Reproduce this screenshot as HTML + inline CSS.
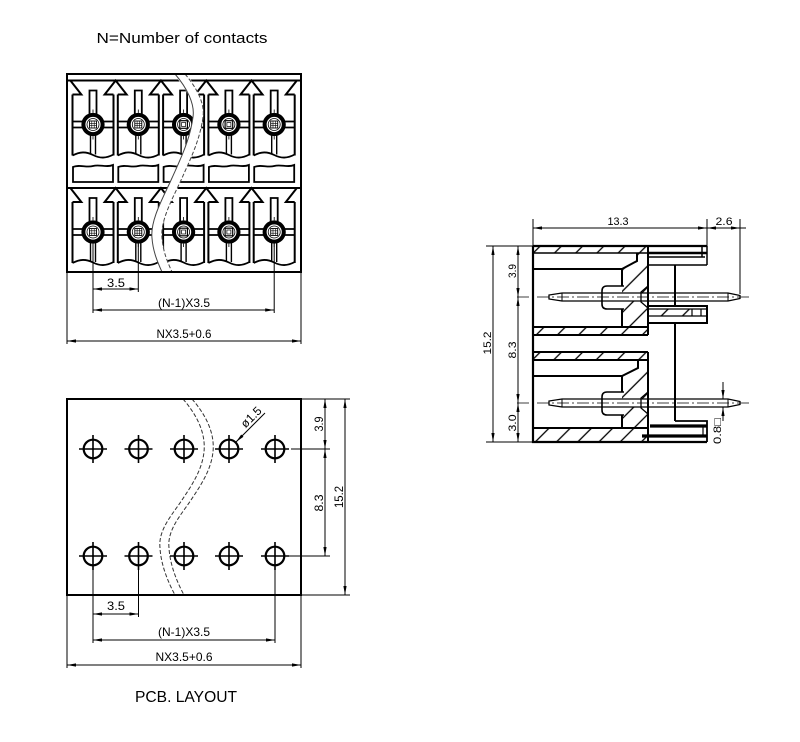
<!DOCTYPE html>
<html><head><meta charset="utf-8">
<style>html,body{margin:0;padding:0;background:#fff}svg{display:block}</style></head>
<body>
<svg width="800" height="742" viewBox="0 0 800 742" xmlns="http://www.w3.org/2000/svg" font-family="'Liberation Sans', 'DejaVu Sans', sans-serif">
<defs>
<marker id="a" markerUnits="userSpaceOnUse" markerWidth="9" markerHeight="4" refX="9" refY="2" orient="auto-start-reverse"><path d="M0,0.4 L9,2 L0,3.6z" fill="#000"/></marker>
<pattern id="h" patternUnits="userSpaceOnUse" width="15" height="15" patternTransform="rotate(45)"><line x1="1" y1="0" x2="1" y2="15" stroke="#000" stroke-width="1.3"/></pattern>
<g id="cg" fill="none" stroke="#000">
  <path d="M-20.5,-30V31M20.5,-30V31" stroke-width="2"/>
  <path d="M-20.5,31C-13,27 -7,27 0,30.5C7,34 13,34 20.5,30" stroke-width="1.8"/>
  <path d="M-3.5,-10V-34H3.5V-10" stroke-width="1.8"/>
  <path d="M-2.5,10V30M2.5,10V30" stroke-width="1.4"/>
  <path d="M-20.5,-3H-10M10,-3H20.5M-20.5,3H-10M10,3H20.5" stroke-width="1.8"/>
  <circle r="9.6" stroke-width="4"/>
  <circle r="6" stroke-width="0.8"/>
  <path d="M0,-15V-11.6M0,11.6V15" stroke-width="0.8"/>
</g>
<g id="gA" fill="none" stroke="#000"><rect x="-3.5" y="-3.5" width="7" height="7" stroke-width="0.9"/><path d="M-3.5,-1.2H3.5M-3.5,1.2H3.5M-1.2,-3.5V3.5M1.2,-3.5V3.5" stroke-width="0.6"/></g>
<g id="gB" fill="none" stroke="#000"><rect x="-3.8" y="-3.8" width="7.6" height="7.6" stroke-width="1.2"/><rect x="-2" y="-2" width="4" height="4" stroke-width="0.7"/></g>
<g id="hole" fill="none" stroke="#000"><circle r="9.3" stroke-width="2.2"/><path d="M-14,0H14M0,-14V14" stroke-width="1.6"/><circle r="1" fill="#000" stroke="none"/></g>
</defs>

<!-- ================= TOP VIEW ================= -->
<text x="182" y="43" font-size="15" text-anchor="middle" textLength="171" lengthAdjust="spacingAndGlyphs">N=Number of contacts</text>

<g fill="none" stroke="#000" stroke-width="2">
  <path d="M68,80.5H300"/>
  <path d="M70.35,80.5L81.35,94.5H72.5"/>
  <path d="M113.5,94.5H104.65L115.65,80.5L126.65,94.5H117.8"/>
  <path d="M158.8,94.5H149.95L160.95,80.5L171.95,94.5H163.1"/>
  <path d="M204.1,94.5H195.25L206.25,80.5L217.25,94.5H208.4"/>
  <path d="M249.4,94.5H240.55L251.55,80.5L262.55,94.5H253.7"/>
  <path d="M294.7,94.5H285.85L296.85,80.5"/>

  <path d="M68,188H300"/>
  <path d="M70.35,188L81.35,202H72.5"/>
  <path d="M113.5,202H104.65L115.65,188L126.65,202H117.8"/>
  <path d="M158.8,202H149.95L160.95,188L171.95,202H163.1"/>
  <path d="M204.1,202H195.25L206.25,188L217.25,202H208.4"/>
  <path d="M249.4,202H240.55L251.55,188L262.55,202H253.7"/>
  <path d="M294.7,202H285.85L296.85,188"/>
</g>

<use href="#cg" x="93" y="124.5"/><use href="#gA" x="93" y="124.5"/>
<use href="#cg" x="138.3" y="124.5"/><use href="#gA" x="138.3" y="124.5"/>
<use href="#cg" x="183.6" y="124.5"/><use href="#gB" x="183.6" y="124.5"/>
<use href="#cg" x="228.9" y="124.5"/><use href="#gB" x="228.9" y="124.5"/>
<use href="#cg" x="274.2" y="124.5"/><use href="#gA" x="274.2" y="124.5"/>

<use href="#cg" x="93" y="232"/><use href="#gA" x="93" y="232"/>
<use href="#cg" x="138.3" y="232"/><use href="#gA" x="138.3" y="232"/>
<use href="#cg" x="183.6" y="232"/><use href="#gB" x="183.6" y="232"/>
<use href="#cg" x="228.9" y="232"/><use href="#gB" x="228.9" y="232"/>
<use href="#cg" x="274.2" y="232"/><use href="#gA" x="274.2" y="232"/>

<g fill="none" stroke="#000" stroke-width="1.8">
  <path d="M73,182V167C80,164 86,168 93,166C100,164 106,168 113,165V182Z"/>
  <path d="M118.3,182V167C125.3,164 131.3,168 138.3,166C145.3,164 151.3,168 158.3,165V182Z"/>
  <path d="M163.6,182V167C170.6,164 176.6,168 183.6,166C190.6,164 196.6,168 203.6,165V182Z"/>
  <path d="M208.9,182V167C215.9,164 221.9,168 228.9,166C235.9,164 241.9,168 248.9,165V182Z"/>
  <path d="M254.2,182V167C261.2,164 267.2,168 274.2,166C281.2,164 287.2,168 294.2,165V182Z"/>
</g>

<path d="M180,74 C192,88 200,104 198,117 C195,140 185,160 177,178 C169,196 155,220 157,238 C158,252 163,263 167,272" fill="none" stroke="#fff" stroke-width="10"/>
<path d="M175,74 C187,88 195,104 193,117 C190,140 180,160 172,178 C164,196 150,220 152,238 C153,252 158,263 162,272" fill="none" stroke="#444" stroke-width="1"/>
<path d="M185,74 C197,88 205,104 203,117 C200,140 190,160 182,178 C174,196 160,220 162,238 C163,252 168,263 172,272" fill="none" stroke="#444" stroke-width="1" stroke-dasharray="4 2"/>

<rect x="67" y="74" width="234" height="198" fill="none" stroke="#000" stroke-width="2"/>

<g fill="none" stroke="#000" stroke-width="1">
  <path d="M93,243V292M138.3,243V292M93,292V313M274.2,243V313M67,272V344M301,272V344"/>
  <path d="M93,289H138.3" marker-start="url(#a)" marker-end="url(#a)"/>
  <path d="M93,310H274.2" marker-start="url(#a)" marker-end="url(#a)"/>
  <path d="M67,341H301" marker-start="url(#a)" marker-end="url(#a)"/>
</g>
<g font-size="12" text-anchor="middle">
  <text x="116" y="287" textLength="18" lengthAdjust="spacingAndGlyphs">3.5</text>
  <text x="184" y="307" textLength="52" lengthAdjust="spacingAndGlyphs">(N-1)X3.5</text>
  <text x="184" y="338" textLength="55" lengthAdjust="spacingAndGlyphs">NX3.5+0.6</text>
</g>

<!-- ================= PCB LAYOUT ================= -->
<path d="M183,399 C196,414 206,432 204,452 C202,470 192,485 182,500 C172,515 158,530 160,548 C161,565 168,582 175,595" fill="none" stroke="#333" stroke-width="1" stroke-dasharray="4 2"/>
<path d="M192,399 C205,414 215,432 213,452 C211,470 201,485 191,500 C181,515 167,530 169,548 C170,565 177,582 184,595" fill="none" stroke="#333" stroke-width="1" stroke-dasharray="4 2"/>

<rect x="67" y="399" width="234" height="196" fill="none" stroke="#000" stroke-width="2"/>
<path d="M301,399H350M301,595H350" stroke="#000" stroke-width="1"/>

<use href="#hole" x="93" y="449"/><use href="#hole" x="138.5" y="449"/><use href="#hole" x="184" y="449"/><use href="#hole" x="229" y="449"/><use href="#hole" x="275" y="449"/>
<use href="#hole" x="93" y="556"/><use href="#hole" x="138.5" y="556"/><use href="#hole" x="184" y="556"/><use href="#hole" x="229" y="556"/><use href="#hole" x="275" y="556"/>

<g fill="none" stroke="#000" stroke-width="1">
  <path d="M291,449H330M289,556H330"/>
  <path d="M325,399V449" marker-start="url(#a)" marker-end="url(#a)"/>
  <path d="M325,449V556" marker-start="url(#a)" marker-end="url(#a)"/>
  <path d="M345,399V595" marker-start="url(#a)" marker-end="url(#a)"/>
  <path d="M265,413L236,442" marker-end="url(#a)"/>
  <path d="M93,565V617M138.5,565V617M93,617V643M275,565V643M67,595V668M301,595V668"/>
  <path d="M93,614H138.5" marker-start="url(#a)" marker-end="url(#a)"/>
  <path d="M93,640H275" marker-start="url(#a)" marker-end="url(#a)"/>
  <path d="M67,665H301" marker-start="url(#a)" marker-end="url(#a)"/>
</g>
<g font-size="12" text-anchor="middle">
  <text transform="translate(323,424) rotate(-90)" textLength="15" lengthAdjust="spacingAndGlyphs">3.9</text>
  <text transform="translate(323,503) rotate(-90)" textLength="17" lengthAdjust="spacingAndGlyphs">8.3</text>
  <text transform="translate(343,497) rotate(-90)" textLength="22" lengthAdjust="spacingAndGlyphs">15.2</text>
  <text transform="translate(254,420) rotate(-45)" textLength="24" lengthAdjust="spacingAndGlyphs">ø1.5</text>
  <text x="116" y="610" textLength="18" lengthAdjust="spacingAndGlyphs">3.5</text>
  <text x="184" y="636" textLength="52" lengthAdjust="spacingAndGlyphs">(N-1)X3.5</text>
  <text x="184" y="661" textLength="57" lengthAdjust="spacingAndGlyphs">NX3.5+0.6</text>
</g>
<text x="186" y="702" font-size="16" text-anchor="middle" textLength="102" lengthAdjust="spacingAndGlyphs">PCB. LAYOUT</text>

<!-- ================= SIDE VIEW ================= -->
<g fill="url(#h)" stroke="none">
  <rect x="533" y="246" width="115" height="7"/>
  <polygon points="637,253 648,253 648,327 622,327 622,269 637,261"/>
  <rect x="533" y="327" width="115" height="8"/>
  <rect x="533" y="352" width="115" height="8"/>
  <polygon points="638,360 648,360 648,428 622,428 622,376 638,368"/>
  <rect x="533" y="428" width="115" height="14"/>
  <rect x="648" y="309" width="44" height="7"/>
</g>

<g fill="#fff" stroke="#000" stroke-width="1.3">
  <path d="M562,293H728L740,295.5V298.5L728,301H562L549,299V295Z"/>
  <path d="M562,399H728L740,401.5V404.5L728,407H562L549,405V401Z"/>
</g>
<path d="M562,293V301M728,293V301M562,399V407M728,399V407" stroke="#000" stroke-width="1"/>

<g fill="none" stroke="#000">
  <path d="M533,246H707M533,246V442H707" stroke-width="2.2"/>
  <path d="M533,253H648" stroke-width="1.6"/>
  <path d="M533,269H622L637,261V253" stroke-width="2"/>
  <path d="M622,269V286M622,309V327" stroke-width="2"/>
  <path d="M533,327H648M533,335H648" stroke-width="2"/>
  <path d="M648,246V335" stroke-width="2"/>
  <path d="M624,286H607Q602,286 602,291V304Q602,309 607,309H624" stroke-width="1.6"/>
  <path d="M648,286L641,292V302L648,308" stroke-width="1.3"/>
  <path d="M533,352H648M533,360H648" stroke-width="2"/>
  <path d="M533,376H622L638,368V360" stroke-width="2"/>
  <path d="M622,376V392M622,415V428" stroke-width="2"/>
  <path d="M533,428H648" stroke-width="2"/>
  <path d="M648,352V442" stroke-width="2"/>
  <path d="M624,392H607Q602,392 602,397V410Q602,415 607,415H624" stroke-width="1.6"/>
  <path d="M648,392L641,398V408L648,414" stroke-width="1.3"/>
  <path d="M648,253H707" stroke-width="2.4"/>
  <path d="M648,257H705M648,265H707M707,246V265M702,246V257" stroke-width="1.5"/>
  <path d="M675,265V306M675,323V421" stroke-width="2"/>
  <path d="M648,306H707V323H648" stroke-width="2"/>
  <path d="M648,309H707M648,316H707M692,309V316M701,309V316" stroke-width="1.2"/>
  <path d="M675,421H707V442" stroke-width="1.8"/>
  <path d="M650,426H707M642,436H707" stroke-width="3.2"/>
  <path d="M703,426V436" stroke-width="1.2"/>
</g>

<path d="M517,297H750M517,403H750" stroke="#000" stroke-width="0.8" stroke-dasharray="12 3 2 3" fill="none"/>

<g fill="none" stroke="#000" stroke-width="1">
  <path d="M533,219V246M707,219V246M740,219V294"/>
  <path d="M533,228H707" marker-start="url(#a)" marker-end="url(#a)"/>
  <path d="M707,228H740" marker-start="url(#a)" marker-end="url(#a)"/>
  <path d="M740,228H746"/>
  <path d="M486,246H533M486,442H533"/>
  <path d="M493,246V442" marker-start="url(#a)" marker-end="url(#a)"/>
  <path d="M518,246V297" marker-start="url(#a)" marker-end="url(#a)"/>
  <path d="M518,297V403" marker-start="url(#a)" marker-end="url(#a)"/>
  <path d="M518,403V442" marker-start="url(#a)" marker-end="url(#a)"/>
  <path d="M723,382V399" marker-end="url(#a)"/>
  <path d="M723,421V407" marker-end="url(#a)"/>
</g>
<g font-size="11" text-anchor="middle">
  <text x="618" y="225" textLength="21" lengthAdjust="spacingAndGlyphs">13.3</text>
  <text x="724" y="225" textLength="17" lengthAdjust="spacingAndGlyphs">2.6</text>
  <text transform="translate(491,343) rotate(-90)" textLength="23" lengthAdjust="spacingAndGlyphs">15.2</text>
  <text transform="translate(516,271) rotate(-90)" textLength="14" lengthAdjust="spacingAndGlyphs">3.9</text>
  <text transform="translate(516,350) rotate(-90)" textLength="17" lengthAdjust="spacingAndGlyphs">8.3</text>
  <text transform="translate(516,423) rotate(-90)" textLength="17" lengthAdjust="spacingAndGlyphs">3.0</text>
  <text transform="translate(721,431) rotate(-90)" textLength="26" lengthAdjust="spacingAndGlyphs">0.8□</text>
</g>
</svg>
</body></html>
